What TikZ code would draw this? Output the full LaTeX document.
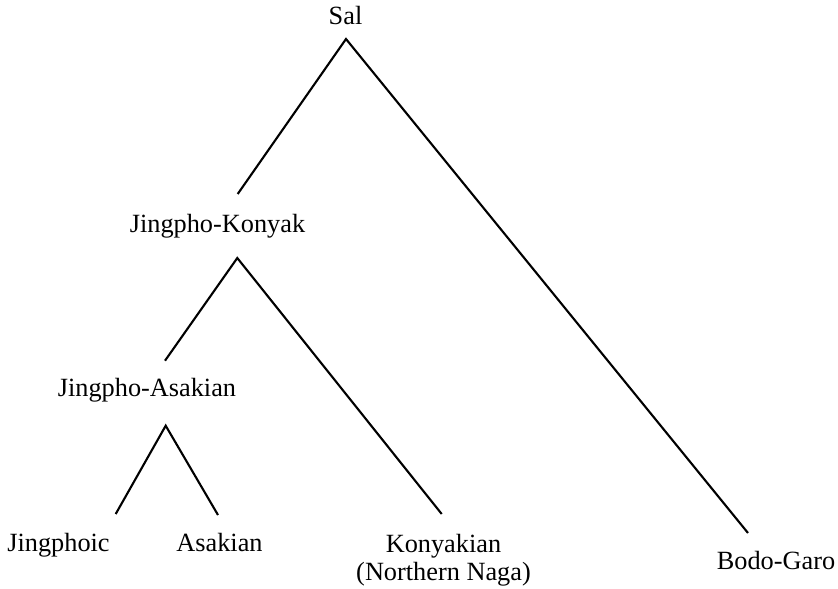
\documentclass[tikz,border=0pt]{standalone}
\usepackage{fontspec}
\setmainfont{Liberation Serif}
\begin{document}
\begin{tikzpicture}[x=1pt,y=-1pt,
  taxon/.style={font=\fontsize{26.3}{28}\selectfont, inner sep=0pt, anchor=base},
  treeline/.style={line width=2.1pt, line cap=butt, line join=miter}]
\useasboundingbox (0,0) rectangle (838,589);

% group names
\node[taxon] (sal) at (345.5,24) {Sal};
\node[taxon] (jk)  at (217.5,232) {Jingpho-Konyak};
\node[taxon] (ja)  at (147,396) {Jingpho-Asakian};
\node[taxon] (jingphoic) at (58.5,551) {Jingphoic};
\node[taxon] (asakian)   at (219.5,551) {Asakian};
\node[taxon, anchor=north, align=center] (konyakian) at (443.5,534.2)
  {Konyakian\\(Northern Naga)};
\node[taxon] (bodo) at (776,569) {Bodo-Garo};

% branch points and branch ends
\coordinate (salTop) at (346,39);
\coordinate (salL)   at (237.7,194);
\coordinate (salR)   at (748,533);
\coordinate (jkTop)  at (237.3,258);
\coordinate (jkL)    at (165,360.7);
\coordinate (jkR)    at (441.7,514);
\coordinate (jaTop)  at (165.7,425.7);
\coordinate (jaL)    at (115.7,514);
\coordinate (jaR)    at (218,515);

% branches
\draw[treeline] (salL) -- (salTop) -- (salR);
\draw[treeline] (jkL) -- (jkTop) -- (jkR);
\draw[treeline] (jaL) -- (jaTop) -- (jaR);
\end{tikzpicture}
\end{document}
